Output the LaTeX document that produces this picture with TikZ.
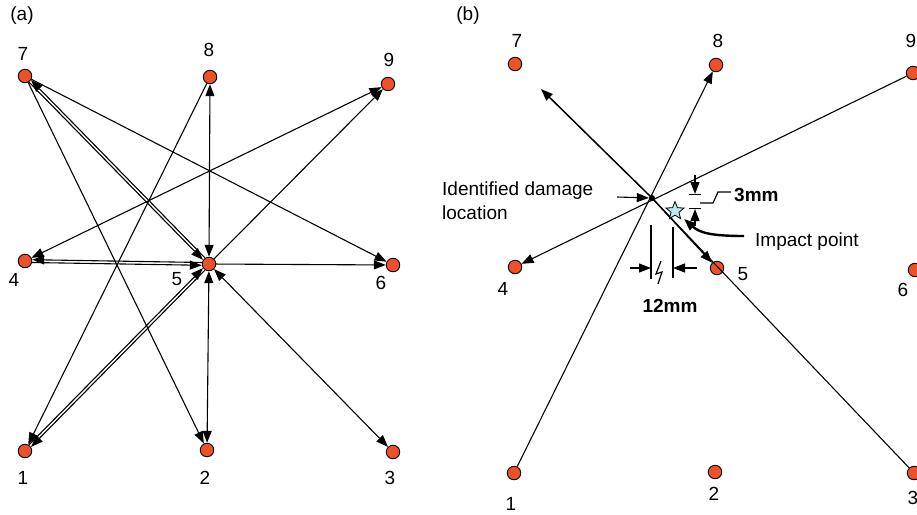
\documentclass[tikz,border=0pt]{standalone}
\usepackage{fontspec}
\setmainfont{Liberation Sans}
\usetikzlibrary{arrows.meta,shapes.geometric,calc}
\definecolor{dotred}{HTML}{EE5027}
\definecolor{starfill}{HTML}{BDE9EC}
\begin{document}
\begin{tikzpicture}[x=1pt,y=-1pt,
  every node/.style={font=\fontsize{19}{24}\selectfont},
  pt/.style={circle,draw=black,line width=0.9pt,fill=dotred,minimum size=13.5pt,inner sep=0pt},
  lbl/.style={inner sep=0pt},
  tip/.style={-{Triangle[length=12pt,width=9pt]}},
  arr/.style={line width=1.1pt,tip},
  barr/.style={line width=1.1pt,{Triangle[length=12pt,width=9pt]}-{Triangle[length=12pt,width=9pt]}},
  thin/.style={line width=1.1pt},
  dim/.style={line width=1.2pt}]
\useasboundingbox (0,0) rectangle (917,514);
% ---------------- panel (a)
\node[lbl] (la) at (22,16) {(a)};
\node[pt] (a7) at (25,76) {};
\node[pt] (a8) at (210,77) {};
\node[pt] (a9) at (388,84) {};
\node[pt] (a4) at (25,261) {};
\node[pt] (a5) at (209,264) {};
\node[pt] (a6) at (393,265) {};
\node[pt] (a1) at (25,451) {};
\node[pt] (a2) at (207,450) {};
\node[pt] (a3) at (393,452) {};
\node[lbl] at (23,54) {7};
\node[lbl] at (209,50) {8};
\node[lbl] at (389,60) {9};
\node[lbl] at (14,280) {4};
\node[lbl] at (177,279) {5};
\node[lbl] at (381,283) {6};
\node[lbl] at (23,478) {1};
\node[lbl] at (205,478) {2};
\node[lbl] at (390,478) {3};
% edges
\draw[arr,transform canvas={shift={(1,-1)}}] (a5) -- (a7);
\draw[arr,transform canvas={shift={(-1,1)}}] (a7) -- (a5);
\draw[arr] (a7) -- (a6);
\draw[arr] (a7) -- (a2);
\draw[barr] (a8) -- (a5);
\draw[arr] (a8) -- (a1);
\draw[barr] (a4) -- (a9);
\draw[arr] (a5) -- (a9);
\draw[arr,transform canvas={yshift=1.4pt}] (a5) -- (a4);
\draw[arr,transform canvas={yshift=-1.4pt}] (a4) -- (a5);
\draw[arr] (a5) -- (a6);
\draw[arr,transform canvas={shift={(1,1)}}] (a5) -- (a1);
\draw[arr,transform canvas={shift={(-1,-1)}}] (a1) -- (a5);
\draw[barr] (a5) -- (a2);
\draw[barr] (a5) -- (a3);
% ---------------- panel (b)
\node[lbl] (lb) at (468,16) {(b)};
\node[pt] (b7) at (515,64) {};
\node[pt] (b8) at (716,65) {};
\node[pt] (b9) at (913,73) {};
\node[pt] (b4) at (515,267) {};
\node[pt] (b5) at (717,268) {};
\node[pt] (b6) at (915,270) {};
\node[pt] (b1) at (514,473) {};
\node[pt] (b2) at (715,472) {};
\node[pt] (b3) at (914,473) {};
\node[lbl] at (517,41) {7};
\node[lbl] at (718,41) {8};
\node[lbl] at (911,41) {9};
\node[lbl] at (503,289) {4};
\node[lbl] at (743,274) {5};
\node[lbl] at (903,290) {6};
\node[lbl] at (511,504) {1};
\node[lbl] at (714,494) {2};
\node[lbl] at (913,498) {3};
\node[circle,fill=black,minimum size=6pt,inner sep=0pt] (D) at (652,198) {};
\coordinate (t7) at (541,89);
\draw[line width=1.5pt,tip] (D.center) -- (t7);
\draw[line width=1.5pt,tip] (D.center) -- (b5);
\draw[thin] (D.center) -- (b3);
\draw[arr] (b1) -- (b8);
\draw[arr] (b9) -- (b4);
\node[star,star points=5,star point ratio=2.3,draw=black,line width=0.8pt,fill=starfill,minimum size=19pt,inner sep=0pt] (S) at (675,211) {};
% labels and annotations
\node[lbl,anchor=west,align=left] (idl) at (442,201) {Identified damage\\location};
\coordinate (ida) at (617,197);
\draw[arr] (ida) -- (D);
\node[lbl,anchor=west] (imp) at (755,242) {Impact point};
\coordinate (ims) at (744,236);
\coordinate (imt) at (684,219);
\draw[line width=2.4pt,tip] (ims) .. controls (708,236) and (699,232) .. (imt);
\node[lbl,anchor=west,font=\fontsize{19}{24}\selectfont\bfseries] (m3) at (734,195) {3mm};
\node[lbl,font=\fontsize{19}{24}\selectfont\bfseries] (m12) at (670,306) {12mm};
% 3mm dimension
\draw[arr] (695,175) -- (695,194);
\draw[dim] (689,194.5) -- (701,194.5);
\draw[arr] (695,226) -- (695,209);
\draw[dim] (689,208.5) -- (701,208.5);
\draw[dim] (700,203) -- (713,203) -- (718,192) -- (731,192);
% 12mm dimension
\draw[dim] (651,225) -- (651,279);
\draw[dim] (673,227) -- (673,278);
\draw[arr] (630,268) -- (651,268);
\draw[arr] (697,268) -- (673,268);
\draw[dim] (661,261) -- (656,274) -- (662,272) -- (658,284);
\end{tikzpicture}
\end{document}
